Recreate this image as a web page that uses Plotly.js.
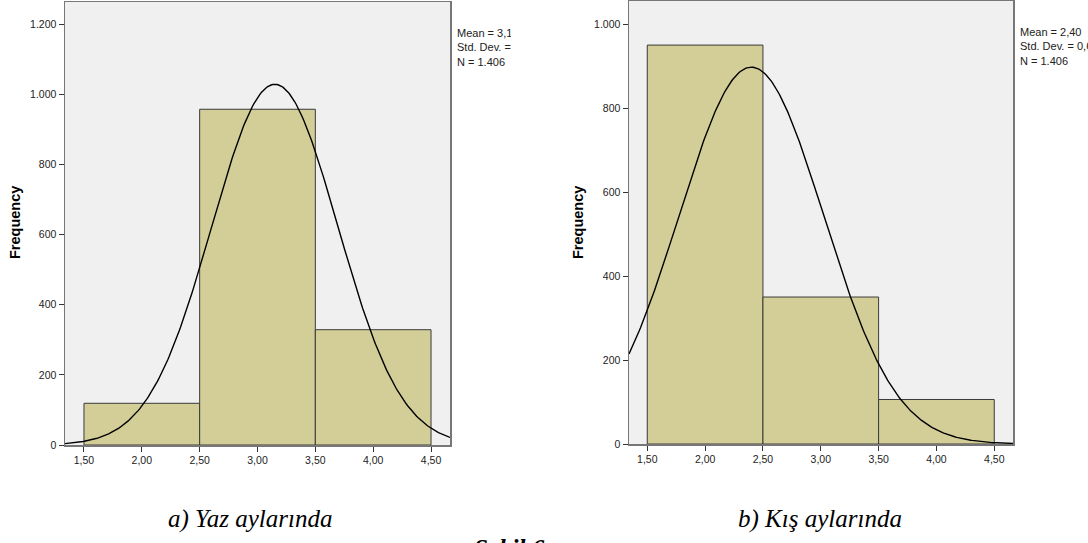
<!DOCTYPE html>
<html>
<head>
<meta charset="utf-8">
<script src="https://cdn.plot.ly/plotly-3.0.1.min.js"></script>
<style>html,body{margin:0;padding:0;background:#fff;}#chart{width:1088px;height:543px;}</style>
</head>
<body>
<div id="chart"></div>
<script>
// ---- data ----
var binCenters = [2.0, 3.0, 4.0];
var binWidth = 1.0;
var yazCounts = [119, 958, 329];
var kisCounts = [950, 350, 106];
var yazMean = 3.15, yazSD = 0.545, yazN = 1406;
var kisMean = 2.40, kisSD = 0.625, kisN = 1406;
var xTickVals = [1.5, 2.0, 2.5, 3.0, 3.5, 4.0, 4.5];
var xTickText = ['1,50', '2,00', '2,50', '3,00', '3,50', '4,00', '4,50'];
var yazYTickVals = [0, 200, 400, 600, 800, 1000, 1200];
var yazYTickText = ['0', '200', '400', '600', '800', '1.000', '1.200'];
var kisYTickVals = [0, 200, 400, 600, 800, 1000];
var kisYTickText = ['0', '200', '400', '600', '800', '1.000'];
var yazStats = 'Mean = 3,15<br>Std. Dev. = 0,545<br>N = 1.406';
var kisStats = 'Mean = 2,40<br>Std. Dev. = 0,625<br>N = 1.406';
var captionA = 'a) Yaz aylarında';
var captionB = 'b) Kış aylarında';
var figCaption = 'Şekil 6.';

// ---- layout helpers ----
var W = 1088, H = 543;
function px(x) { return x / W; }
function py(y) { return 1 - y / H; }

function normalCurve(mean, sd, n, bw, x0, x1) {
  var xs = [], ys = [];
  var steps = 300;
  for (var i = 0; i <= steps; i++) {
    var x = x0 + (x1 - x0) * i / steps;
    xs.push(x);
    ys.push(n * bw / (sd * Math.sqrt(2 * Math.PI)) * Math.exp(-Math.pow(x - mean, 2) / (2 * sd * sd)));
  }
  return {x: xs, y: ys};
}

var xr1 = [1.336, 4.664];
var xr2 = [1.342, 4.662];
var c1 = normalCurve(yazMean, yazSD, yazN, binWidth, xr1[0], xr1[1]);
var c2 = normalCurve(kisMean, kisSD, kisN, binWidth, xr2[0], xr2[1]);

var barColor = '#D3CE98';
var barLine = '#3a3a3a';

var traces = [
  {type: 'bar', x: binCenters, y: yazCounts, width: binWidth, xaxis: 'x', yaxis: 'y',
   marker: {color: barColor, line: {color: barLine, width: 1}}, hoverinfo: 'skip'},
  {type: 'scatter', mode: 'lines', x: c1.x, y: c1.y, xaxis: 'x', yaxis: 'y',
   line: {color: '#000', width: 1.4}, hoverinfo: 'skip'},
  {type: 'bar', x: binCenters, y: kisCounts, width: binWidth, xaxis: 'x2', yaxis: 'y2',
   marker: {color: barColor, line: {color: barLine, width: 1}}, hoverinfo: 'skip'},
  {type: 'scatter', mode: 'lines', x: c2.x, y: c2.y, xaxis: 'x2', yaxis: 'y2',
   line: {color: '#000', width: 1.4}, hoverinfo: 'skip'}
];

var SANS = 'Liberation Sans';
var SERIF = 'Liberation Serif';
var tickFont = {family: SANS, size: 10.5, color: '#222'};
function xAxis(domain, range, anchor) {
  return {domain: domain, range: range, anchor: anchor, tickmode: 'array',
    tickvals: xTickVals, ticktext: xTickText, ticks: 'outside', ticklen: 5, tickwidth: 1,
    tickcolor: '#333', showgrid: false, zeroline: false, showline: true, linecolor: '#777',
    linewidth: 1.5, mirror: true, tickfont: tickFont, fixedrange: true};
}
function yAxis(domain, range, anchor, tv, tt) {
  return {domain: domain, range: range, anchor: anchor, tickmode: 'array',
    tickvals: tv, ticktext: tt, ticks: 'outside', ticklen: 5, tickwidth: 1,
    tickcolor: '#333', showgrid: false, zeroline: false, showline: true, linecolor: '#777',
    linewidth: 1.5, mirror: true, tickfont: tickFont, fixedrange: true};
}

var layout = {
  width: W, height: H,
  margin: {l: 0, r: 0, t: 0, b: 0},
  paper_bgcolor: '#fff',
  plot_bgcolor: '#F0F0F0',
  showlegend: false,
  bargap: 0,
  xaxis: xAxis([px(65), px(450)], xr1, 'y'),
  yaxis: yAxis([py(445), py(2)], [0, 1264], 'x', yazYTickVals, yazYTickText),
  xaxis2: xAxis([px(629), px(1013)], xr2, 'y2'),
  yaxis2: yAxis([py(444), py(1)], [0, 1055], 'x2', kisYTickVals, kisYTickText),
  annotations: [
    {xref: 'paper', yref: 'paper', x: px(15), y: py(223), text: '<b>Frequency</b>', textangle: -90,
     showarrow: false, xanchor: 'center', yanchor: 'middle',
     font: {family: SANS, size: 14.5, color: '#000'}},
    {xref: 'paper', yref: 'paper', x: px(578), y: py(223), text: '<b>Frequency</b>', textangle: -90,
     showarrow: false, xanchor: 'center', yanchor: 'middle',
     font: {family: SANS, size: 14.5, color: '#000'}},
    {xref: 'paper', yref: 'paper', x: px(456), y: py(26), text: yazStats, showarrow: false,
     xanchor: 'left', yanchor: 'top', align: 'left', width: 54, borderpad: 0,
     font: {family: SANS, size: 11, color: '#222'}},
    {xref: 'paper', yref: 'paper', x: px(1019), y: py(25), text: kisStats, showarrow: false,
     xanchor: 'left', yanchor: 'top', align: 'left', width: 90, borderpad: 0,
     font: {family: SANS, size: 11, color: '#222'}},
    {xref: 'paper', yref: 'paper', x: px(250), y: py(519), text: captionA, showarrow: false,
     xanchor: 'center', yanchor: 'middle',
     font: {family: SERIF, size: 25, style: 'italic', color: '#000'}},
    {xref: 'paper', yref: 'paper', x: px(820), y: py(519), text: captionB, showarrow: false,
     xanchor: 'center', yanchor: 'middle',
     font: {family: SERIF, size: 25, style: 'italic', color: '#000'}},
    {xref: 'paper', yref: 'paper', x: px(472), y: py(533), text: '<b>' + figCaption + '</b>', showarrow: false,
     xanchor: 'left', yanchor: 'top',
     font: {family: SERIF, size: 25, style: 'italic', color: '#000'}}
  ]
};

Plotly.newPlot('chart', traces, layout, {staticPlot: true, displayModeBar: false});
</script>
</body>
</html>
